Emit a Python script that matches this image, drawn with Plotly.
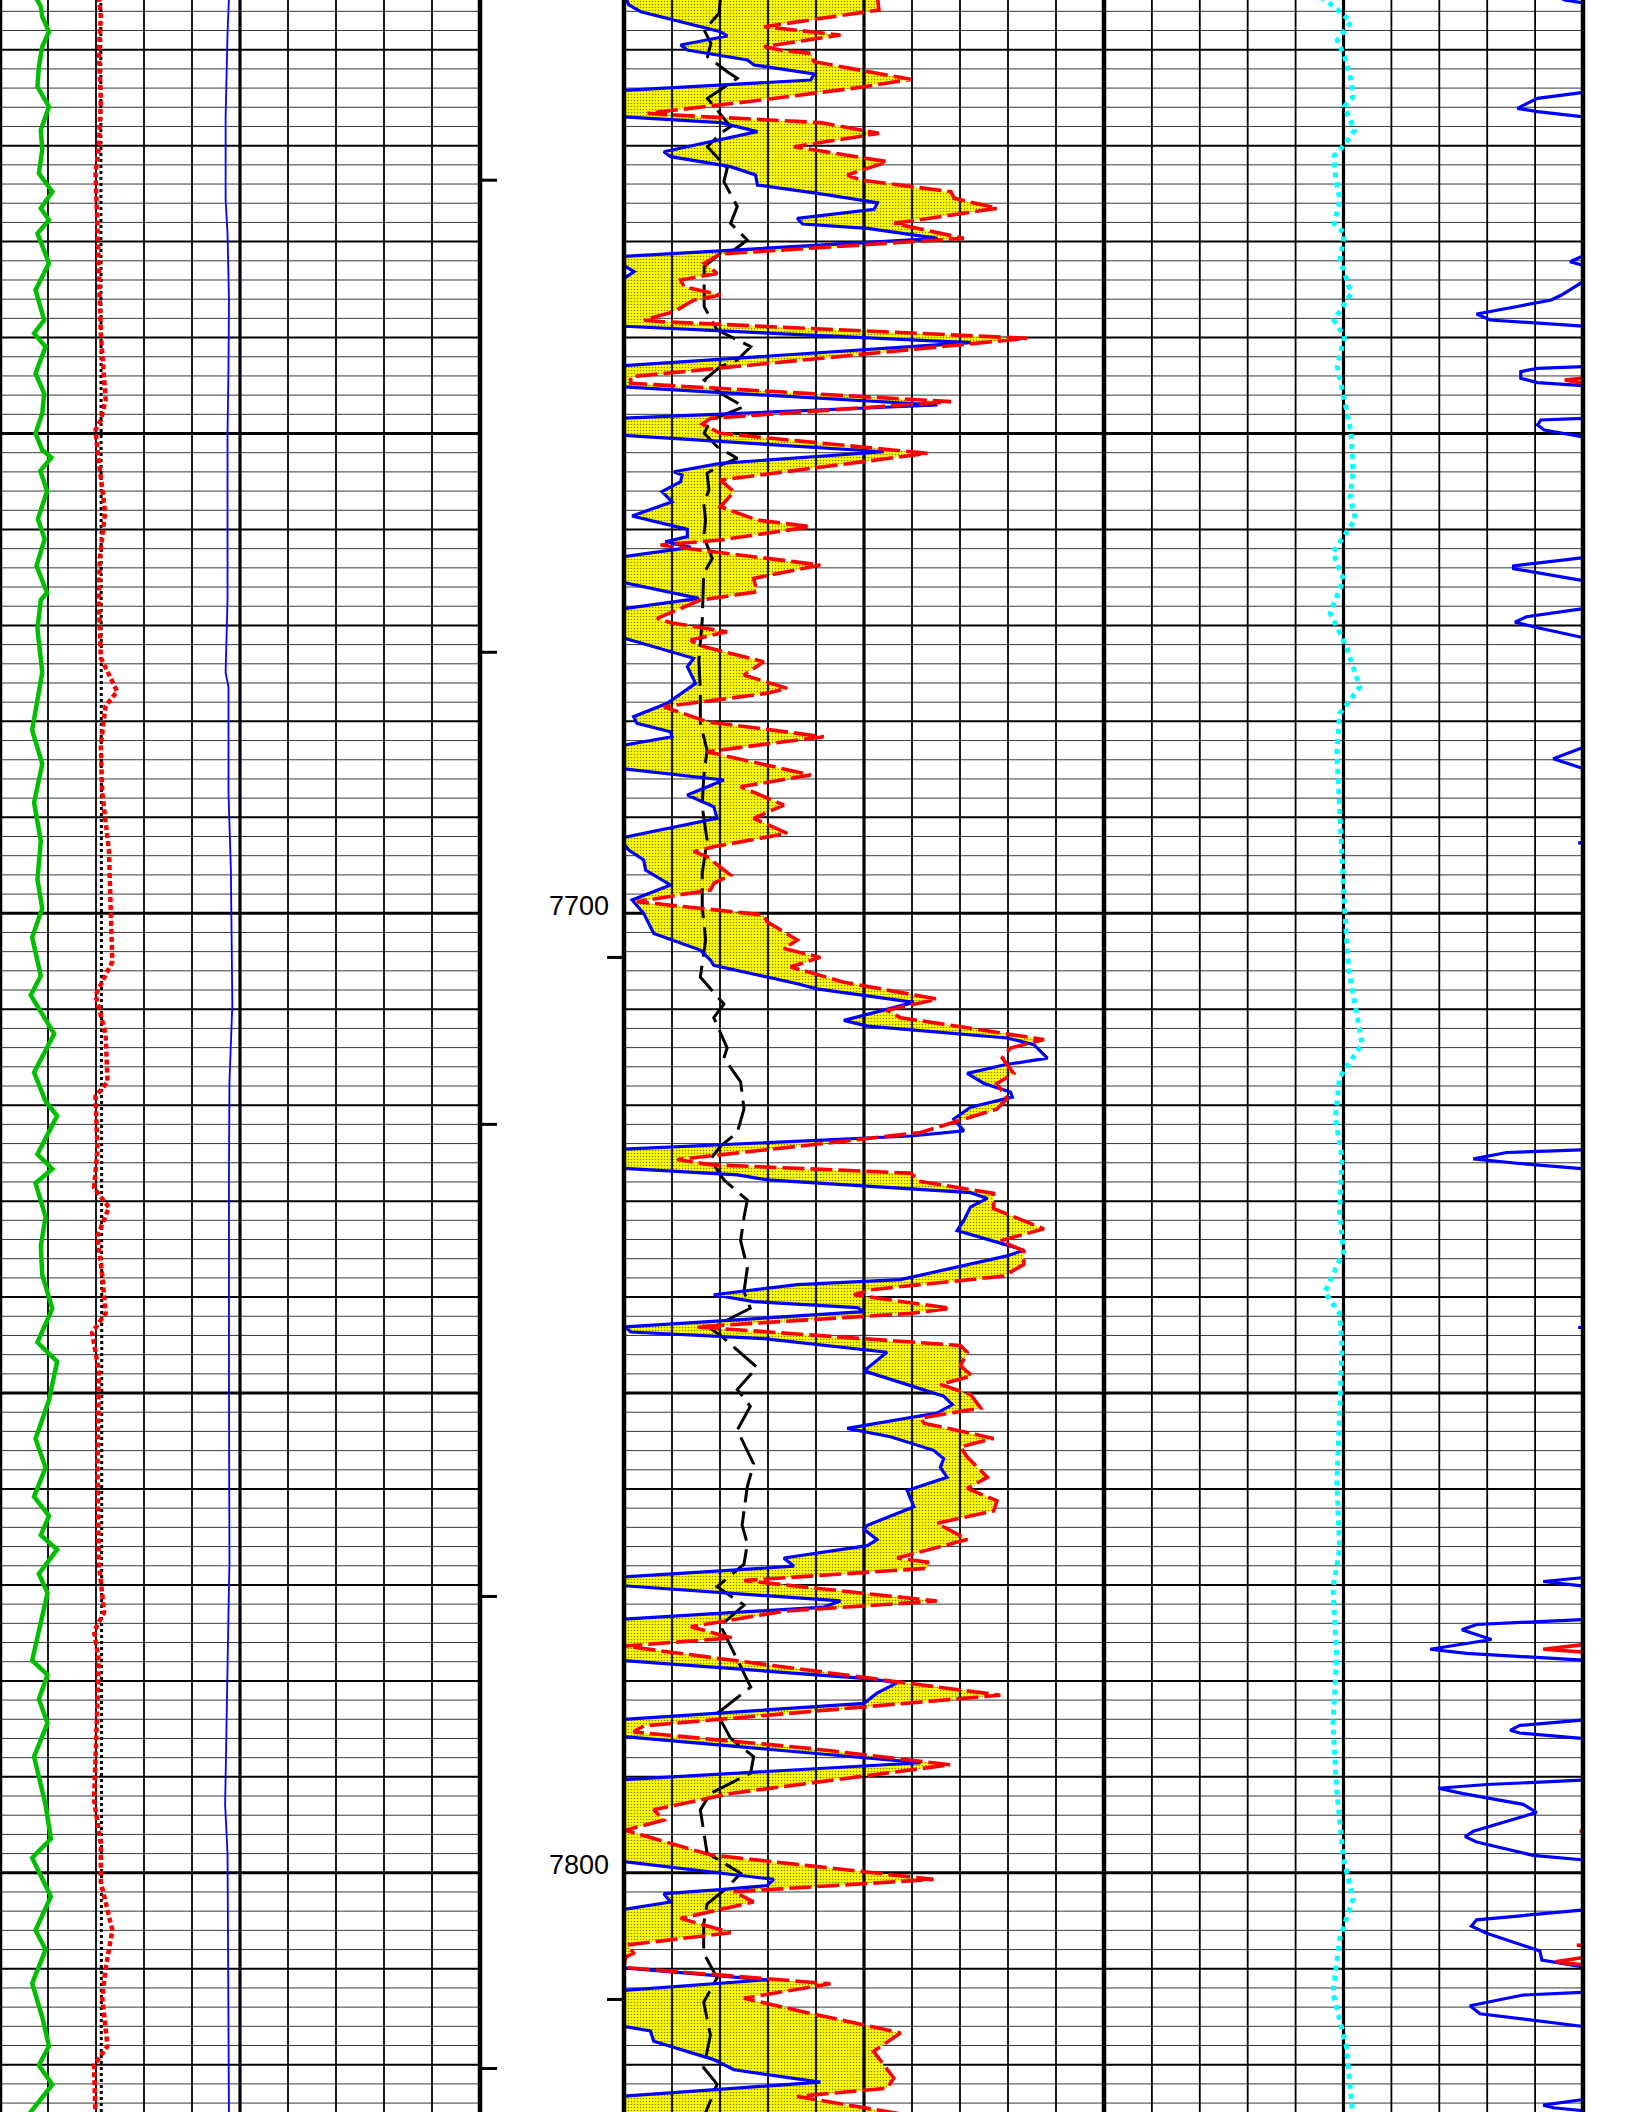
import numpy as np
import plotly.graph_objects as go

W, H = 1632, 2112
DEPTH_TOP, DEPTH_BOTTOM = 7604.82, 7824.93

# ---------------- data (depth ft, value in grid divisions 0-10) ----------------
# Track 1
T1_GREEN = [(7604.5, 0.74), (7605.5, 0.85), (7606.56, 0.88), (7608.12, 1.02), (7609.68, 0.88), (7611.77, 0.81),
            (7613.85, 0.78), (7615.94, 1.02), (7618.37, 0.85), (7620.45, 0.88), (7622.88, 0.81), (7624.8, 1.09),
            (7626.53, 0.85), (7627.75, 1.02), (7629.14, 0.78), (7632.26, 1.02), (7635.04, 0.74), (7638.17, 0.92),
            (7639.56, 0.71), (7640.95, 0.95), (7643.73, 0.74), (7645.81, 0.92), (7647.9, 0.88), (7649.98, 0.74),
            (7651.72, 0.88), (7652.5, 1.07), (7653.9, 0.84), (7656.0, 0.98), (7658.9, 0.79), (7661.0, 0.93),
            (7663.8, 0.76), (7666.6, 0.98), (7667.35, 0.85), (7670.36, 0.78), (7674.89, 0.88), (7680.91, 0.67),
            (7684.43, 0.88), (7688.45, 0.71), (7692.47, 0.85), (7696.49, 0.78), (7699.5, 0.88), (7702.51, 0.67),
            (7706.53, 0.85), (7708.54, 0.64), (7712.56, 1.13), (7716.58, 0.71), (7719.59, 0.95), (7721.1, 1.19),
            (7725.12, 0.78), (7726.63, 1.09), (7728.13, 0.74), (7731.65, 0.95), (7734.66, 0.85), (7737.68, 0.88),
            (7741.2, 1.09), (7744.71, 0.78), (7746.72, 1.19), (7750.74, 1.02), (7754.76, 0.74), (7757.77, 0.95),
            (7760.79, 0.71), (7762.8, 1.02), (7764.81, 0.85), (7766.31, 1.19), (7768.83, 0.81), (7770.83, 0.99),
            (7777.87, 0.67), (7779.37, 0.99), (7781.89, 0.81), (7784.4, 0.99), (7787.91, 0.71), (7792.94, 0.95),
            (7796.45, 1.06), (7798.46, 0.67), (7802.48, 1.06), (7805.99, 0.74), (7808.0, 0.95), (7811.52, 0.67),
            (7815.04, 0.88), (7818.05, 1.02), (7820.06, 0.81), (7822.07, 1.09), (7825.5, 0.55)]

T1_RED = [(7604.5, 2.06), (7606.56, 2.10), (7610.03, 2.06), (7615.24, 2.10), (7620.11, 2.06), (7622.88, 1.99),
          (7628.44, 2.03), (7632.61, 2.06), (7639.56, 2.10), (7646.51, 2.20), (7648.59, 2.10), (7649.63, 1.99),
          (7651.72, 2.03), (7658.2, 2.19), (7663.0, 2.08), (7667.35, 2.06), (7673.38, 2.10), (7676.89, 2.44),
          (7678.4, 2.20), (7682.42, 2.10), (7687.44, 2.13), (7693.47, 2.27), (7699.5, 2.31), (7705.03, 2.34),
          (7708.54, 1.99), (7712.56, 2.20), (7717.59, 2.24), (7719.09, 1.99), (7724.62, 2.03), (7728.64, 1.96),
          (7730.65, 2.27), (7733.66, 2.03), (7737.68, 2.13), (7741.7, 2.20), (7743.71, 1.92), (7747.73, 2.06),
          (7757.77, 2.03), (7767.82, 2.06), (7772.84, 2.17), (7774.85, 1.96), (7777.87, 2.06), (7787.91, 1.99),
          (7792.44, 1.96), (7796.95, 2.10), (7800.97, 2.10), (7805.99, 2.34), (7810.01, 2.20), (7813.03, 2.13),
          (7818.05, 2.24), (7820.06, 1.96), (7825.5, 1.99)]

T1_BLACK = [(7604.5, 2.10), (7650.0, 2.11), (7700.0, 2.12), (7750.0, 2.12), (7825.5, 2.11)]

T1_BLUE = [(7604.5, 4.77), (7608.3, 4.74), (7616.98, 4.70), (7625.66, 4.70), (7629.14, 4.74), (7636.09, 4.77),
           (7643.03, 4.76), (7649.98, 4.74), (7667.35, 4.74), (7674.89, 4.70), (7676.39, 4.76), (7687.44, 4.76),
           (7695.48, 4.81), (7699.5, 4.82), (7709.55, 4.84), (7717.59, 4.78), (7727.63, 4.77), (7747.73, 4.77),
           (7767.82, 4.78), (7772.84, 4.76), (7787.91, 4.70), (7792.94, 4.69), (7797.96, 4.74), (7818.05, 4.77),
           (7825.5, 4.77)]

# Track 2
T2_BLUE = [(7604.5, 0.03), (7605.34, 0.10), (7606.04, 0.35), (7608.12, 2.01), (7608.57, 2.15), (7609.51, 1.18),
           (7610.03, 1.32), (7611.07, 2.57), (7611.59, 2.71), (7612.53, 3.96), (7613.16, 3.89), (7614.27, -0.1),
           (7616.98, -0.1), (7617.60, 2.01), (7618.54, 2.78), (7620.63, 0.83), (7621.15, 0.97), (7622.19, 2.22),
           (7623.06, 2.74), (7624.10, 2.78), (7624.97, 4.03), (7625.94, 5.28), (7626.64, 5.21), (7627.57, 3.61),
           (7628.17, 3.72), (7628.62, 5.07), (7629.66, 6.53), (7631.57, -0.1), (7632.61, 0.03), (7633.13, 0.21),
           (7634.18, -0.1), (7638.80, -0.1), (7640.53, 7.22), (7642.96, -0.1), (7645.12, -0.1), (7647.03, 6.53),
           (7648.42, -0.1), (7650.16, -0.1), (7651.90, 5.41), (7653.11, 2.01), (7653.98, 1.04), (7654.33, 1.21),
           (7655.02, 1.18), (7656.06, 0.79), (7657.11, 1.00), (7658.60, 0.17), (7659.99, 1.32), (7660.75, 1.32),
           (7661.28, 0.86), (7661.87, 1.39), (7662.91, -0.1), (7665.44, -0.1), (7667.18, 1.56), (7668.33, -0.1),
           (7671.18, -0.1), (7673.43, 1.45), (7674.30, 1.32), (7676.04, 1.49), (7678.12, 0.90), (7679.51, 0.20),
           (7680.21, 0.27), (7681.08, 0.97), (7681.60, 1.00), (7682.57, -0.1), (7684.90, -0.1), (7686.11, 2.08),
           (7687.68, 1.32), (7688.89, 1.87), (7690.11, 1.94), (7692.19, -0.1), (7693.41, 0.10), (7694.45, 0.41),
           (7695.50, 0.45), (7697.06, 0.97), (7698.62, 0.17), (7700.01, 0.41), (7702.10, 0.62), (7703.83, 1.59),
           (7704.87, 1.80), (7705.42, 1.87), (7707.35, 3.61), (7707.88, 4.02), (7709.29, 6.04), (7711.16, 4.58),
           (7711.76, 5.07), (7713.00, 7.98), (7713.69, 8.54), (7715.10, 8.82), (7715.81, 7.91), (7716.69, 7.15),
           (7717.74, 7.50), (7718.63, 8.05), (7719.15, 8.09), (7720.21, 7.22), (7721.44, 6.87), (7722.68, 7.08),
           (7723.21, 5.97), (7724.61, -0.1), (7726.55, -0.1), (7727.26, 2.36), (7727.78, 2.98), (7729.12, 7.22),
           (7729.72, 7.57), (7730.60, 7.22), (7732.01, 7.08), (7733.07, 6.94), (7734.48, 7.91), (7735.11, 8.33),
           (7735.71, 7.98), (7738.18, 5.76), (7738.70, 3.61), (7739.76, 1.87), (7740.47, 2.70), (7741.10, 4.86),
           (7741.52, 5.00), (7743.11, 0.03), (7743.64, 0.14), (7744.34, 2.91), (7745.75, 5.48), (7747.69, 5.00),
           (7750.33, 6.66), (7751.21, 6.84), (7752.09, 6.52), (7753.68, 4.65), (7754.56, 5.55), (7755.97, 6.45),
           (7756.85, 6.66), (7757.73, 6.59), (7758.78, 6.73), (7760.15, 5.90), (7761.86, 6.04), (7763.78, 5.07),
           (7764.21, 5.00), (7765.27, 5.27), (7765.91, 5.07), (7767.19, 3.33), (7768.05, 3.54), (7769.20, -0.1),
           (7770.05, -0.1), (7771.67, 4.51), (7772.31, 4.16), (7773.60, -0.1), (7777.86, -0.1), (7779.78, 5.14),
           (7780.21, 5.69), (7781.28, 5.27), (7782.34, 5.00), (7784.05, -0.1), (7785.76, -0.1), (7788.53, 6.18),
           (7790.32, -0.1), (7798.77, -0.1), (7800.69, 3.12), (7801.33, 2.98), (7801.76, 2.01), (7802.18, 0.83),
           (7803.04, 0.97), (7803.89, -0.1), (7809.87, -0.1), (7811.15, 2.98), (7812.30, -0.1), (7815.93, -0.1),
           (7816.48, 0.55), (7817.55, 0.62), (7819.47, 1.87), (7820.53, 2.29), (7821.82, 4.09), (7823.31, -0.1),
           (7825.5, -0.1)]

T2_RED = [(7604.5, 5.28), (7605.86, 5.31), (7607.60, 2.92), (7608.47, 4.51), (7609.68, 2.92), (7610.10, 3.33),
          (7610.38, 3.89), (7611.25, 3.96), (7613.09, 5.97), (7613.92, 4.93), (7615.42, 2.57), (7616.63, 0.49),
          (7616.81, 1.04), (7617.60, 4.10), (7618.72, 5.31), (7620.11, 3.54), (7621.67, 5.49), (7623.06, 4.65),
          (7623.58, 4.93), (7624.80, 6.81), (7625.49, 6.88), (7626.53, 7.78), (7628.10, 5.63), (7628.62, 6.11),
          (7629.66, 7.08), (7631.29, 2.01), (7632.26, 1.67), (7633.31, 1.94), (7634.00, 1.18), (7634.70, 1.25),
          (7635.57, 2.01), (7636.09, 1.46), (7637.30, 1.04), (7638.17, 0.42), (7638.34, 0.76), (7640.08, 8.40),
          (7644.08, 0.14), (7644.77, 0.14), (7646.68, 6.81), (7648.42, 1.81), (7649.01, 1.63), (7649.98, 2.01),
          (7652.07, 6.32), (7654.85, 2.01), (7656.06, 2.29), (7657.63, 2.01), (7659.02, 2.77), (7659.71, 3.89),
          (7661.10, 2.01), (7661.62, 0.76), (7663.71, 4.09), (7665.10, 2.70), (7666.49, 2.77), (7667.36, 1.59),
          (7669.27, 0.69), (7669.72, 0.97), (7670.66, 2.15), (7671.52, 1.39), (7672.04, 1.53), (7673.78, 2.91),
          (7675.17, 2.50), (7676.56, 3.40), (7677.08, 2.98), (7678.47, 0.83), (7680.04, 1.73), (7681.60, 4.16),
          (7683.16, 1.73), (7685.59, 3.89), (7686.81, 2.43), (7688.72, 3.33), (7690.11, 2.70), (7691.67, 3.40),
          (7693.06, 1.87), (7693.58, 1.45), (7694.10, 1.73), (7696.02, 2.22), (7696.89, 1.87), (7697.58, 1.80),
          (7698.79, 0.27), (7700.18, 2.91), (7700.88, 2.98), (7702.79, 3.61), (7703.66, 3.33), (7704.60, 4.09),
          (7705.59, 3.47), (7707.18, 4.58), (7708.41, 5.97), (7708.94, 6.52), (7710.10, 5.48), (7710.88, 5.76),
          (7713.16, 8.75), (7714.05, 8.05), (7715.10, 7.88), (7716.69, 8.12), (7717.74, 7.77), (7719.33, 7.98),
          (7720.39, 7.77), (7722.85, 6.18), (7723.56, 4.93), (7725.67, 1.11), (7726.20, 1.80), (7727.08, 5.97),
          (7727.96, 6.18), (7729.19, 7.70), (7730.78, 7.70), (7732.89, 8.75), (7734.13, 7.84), (7735.18, 8.33),
          (7736.59, 8.33), (7737.82, 7.91), (7739.23, 5.14), (7739.76, 4.79), (7741.17, 6.80), (7741.70, 5.97),
          (7743.11, 1.52), (7745.05, 7.01), (7745.75, 7.15), (7747.16, 7.01), (7748.22, 7.25), (7749.10, 6.59),
          (7750.15, 7.22), (7751.56, 7.43), (7752.62, 6.18), (7753.15, 6.25), (7754.73, 7.70), (7755.61, 7.01),
          (7756.67, 7.15), (7758.78, 7.57), (7759.94, 7.15), (7761.22, 7.77), (7762.29, 7.70), (7763.57, 6.52),
          (7765.27, 7.15), (7767.19, 5.69), (7767.62, 6.32), (7768.26, 6.32), (7769.54, 2.50), (7771.68, 6.52),
          (7772.74, 3.33), (7774.36, 1.39), (7775.52, 2.25), (7776.37, 0.0), (7781.49, 7.84), (7784.69, 0.41),
          (7785.33, 0.20), (7787.04, 3.89), (7788.74, 6.80), (7791.73, 2.22), (7793.44, 0.62), (7794.50, 0.83),
          (7795.57, 0.03), (7798.13, 1.80), (7800.69, 6.45), (7801.97, 2.29), (7803.04, 2.70), (7804.75, 1.18),
          (7806.24, 2.22), (7807.52, 0.07), (7808.37, 0.20), (7808.80, 0.03), (7809.87, 0.0), (7811.57, 4.30),
          (7813.07, 2.50), (7814.35, 3.61), (7816.69, 5.76), (7818.61, 5.20), (7821.39, 5.62), (7822.45, 5.48),
          (7823.31, 3.61), (7825.5, 6.2)]

T2_BLACK = [(7604.5, 2.01), (7606.21, 1.98), (7607.95, 1.67), (7609.34, 1.81), (7610.73, 1.74), (7612.29, 2.15),
            (7612.98, 2.36), (7615.07, 1.74), (7618.02, 2.22), (7618.72, 2.01), (7620.11, 1.74), (7622.36, 2.15),
            (7623.75, 2.08), (7626.36, 2.36), (7628.10, 2.22), (7629.83, 2.57), (7630.88, 2.29), (7631.22, 2.01),
            (7632.61, 1.67), (7634.35, 1.67), (7636.78, 1.67), (7639.21, 1.94), (7640.95, 2.64), (7642.34, 2.36),
            (7643.03, 2.01), (7644.42, 1.67), (7645.81, 2.01), (7647.20, 2.50), (7648.59, 1.81), (7649.98, 1.67),
            (7651.37, 1.94), (7652.59, 2.36), (7653.29, 2.01), (7654.15, 1.73), (7655.89, 1.77), (7657.28, 1.66),
            (7659.02, 1.70), (7660.75, 1.66), (7663.01, 1.84), (7664.58, 1.66), (7668.05, 1.63), (7669.44, 1.63),
            (7673.61, 1.56), (7676.74, 1.59), (7680.21, 1.59), (7682.99, 1.73), (7685.77, 1.66), (7688.89, 1.63),
            (7692.37, 1.73), (7695.84, 1.63), (7699.32, 1.63), (7702.79, 1.70), (7706.65, 1.59), (7709.47, 2.08),
            (7710.88, 1.87), (7714.05, 2.15), (7715.10, 2.08), (7717.57, 2.43), (7720.39, 2.50), (7722.85, 2.36),
            (7724.26, 2.01), (7725.67, 1.80), (7727.78, 2.08), (7729.90, 2.57), (7731.66, 2.50), (7734.13, 2.43),
            (7736.94, 2.57), (7739.41, 2.50), (7741.17, 2.63), (7743.28, 1.80), (7743.99, 2.01), (7747.33, 2.77),
            (7749.63, 2.36), (7751.39, 2.63), (7753.85, 2.36), (7757.38, 2.70), (7759.73, 2.57), (7763.78, 2.46),
            (7765.70, 2.57), (7767.83, 2.50), (7770.18, 1.94), (7772.10, 2.50), (7774.24, 2.01), (7780.64, 2.64),
            (7783.41, 1.94), (7785.97, 2.22), (7787.89, 2.70), (7789.60, 2.64), (7791.73, 1.80), (7793.44, 1.59),
            (7797.92, 1.73), (7800.05, 2.43), (7801.55, 2.15), (7803.25, 1.73), (7805.39, 1.66), (7808.37, 1.66),
            (7810.93, 1.94), (7813.49, 1.66), (7816.91, 1.80), (7820.32, 1.66), (7822.03, 1.94), (7825.5, 1.66)]

# Track 3
T3_CYAN = [(7604.5, 4.52), (7605.5, 4.80), (7607.1, 5.16), (7609.0, 4.87), (7610.7, 5.02), (7613.2, 5.16),
           (7614.9, 5.20), (7615.9, 5.02), (7618.4, 5.23), (7619.9, 5.02), (7621.1, 4.80), (7623.6, 4.84),
           (7625.7, 4.93), (7628.1, 4.80), (7629.1, 5.02), (7631.9, 4.93), (7635.4, 5.16), (7638.2, 4.80),
           (7639.9, 5.02), (7643.0, 4.87), (7646.5, 5.02), (7650.0, 5.16), (7653.9, 5.20), (7656.7, 5.14),
           (7658.9, 5.25), (7662.4, 4.78), (7665.2, 5.0), (7668.7, 4.72), (7672.2, 5.06), (7676.4, 5.34),
           (7679.2, 4.92), (7683.4, 4.86), (7689.0, 4.92), (7694.6, 4.97), (7700.2, 5.03), (7705.9, 5.11),
           (7713.6, 5.39), (7717.1, 4.92), (7721.3, 4.83), (7725.5, 4.97), (7731.1, 4.92), (7735.3, 5.0),
           (7739.5, 4.61), (7741.7, 4.92), (7745.2, 4.97), (7752.2, 4.92), (7759.2, 4.86), (7766.2, 4.92),
           (7770.4, 4.78), (7777.4, 4.86), (7784.5, 4.78), (7791.5, 4.86), (7798.5, 5.0), (7802.7, 5.20),
           (7806.9, 4.92), (7812.5, 4.78), (7818.1, 5.06), (7825.5, 5.20)]

T3_BLUE = [(7604.3, 9.40), (7604.82, 9.62), (7605.6, 10.6),
           (7614.3, 10.6), (7614.48, 9.97), (7615.07, 9.05), (7616.11, 8.63), (7616.46, 9.05), (7616.98, 9.97), (7617.2, 10.6),
           (7631.4, 10.6), (7631.57, 9.97), (7632.09, 9.73), (7632.44, 9.97), (7632.6, 10.6),
           (7634.1, 10.6), (7634.28, 9.97), (7635.57, 9.55), (7636.09, 9.34), (7637.30, 8.06), (7637.55, 7.78),
           (7638.17, 8.06), (7638.52, 9.05), (7638.87, 9.97), (7639.0, 10.6),
           (7642.9, 10.6), (7643.03, 9.97), (7643.21, 9.05), (7643.55, 8.70), (7644.25, 8.70), (7644.70, 9.05),
           (7645.05, 9.97), (7645.2, 10.6),
           (7648.3, 10.6), (7648.42, 9.97), (7648.59, 9.12), (7649.11, 9.05), (7649.63, 9.19), (7650.33, 9.97), (7650.5, 10.6),
           (7662.8, 10.6), (7662.96, 9.97), (7663.80, 8.55), (7664.08, 8.55), (7665.31, 9.97), (7665.5, 10.6),
           (7668.1, 10.6), (7668.27, 9.97), (7669.10, 8.82), (7669.66, 8.58), (7670.22, 9.03), (7671.23, 9.97), (7671.4, 10.6),
           (7682.6, 10.6), (7682.78, 9.97), (7683.90, 9.38), (7684.85, 9.97), (7685.0, 10.6),
           (7692.5, 10.6), (7692.66, 9.90), (7692.8, 10.6),
           (7724.5, 10.6), (7724.65, 9.97), (7724.93, 8.41), (7725.60, 7.71), (7726.05, 8.62), (7726.61, 9.97), (7726.8, 10.6),
           (7743.0, 10.6), (7743.17, 9.90), (7743.3, 10.6),
           (7769.1, 10.6), (7769.25, 9.97), (7769.64, 9.17), (7770.09, 9.97), (7770.2, 10.6),
           (7773.5, 10.6), (7773.62, 9.97), (7774.12, 7.78), (7774.68, 7.47), (7775.69, 8.09), (7776.70, 6.81),
           (7777.14, 7.57), (7777.87, 9.97), (7778.0, 10.6),
           (7783.9, 10.6), (7784.08, 9.97), (7784.64, 8.68), (7785.15, 8.48), (7785.43, 8.68), (7785.99, 9.97), (7786.1, 10.6),
           (7790.2, 10.6), (7790.35, 9.97), (7790.80, 7.99), (7791.19, 6.98), (7791.75, 7.50), (7792.87, 8.75),
           (7793.71, 9.03), (7795.67, 7.71), (7796.23, 7.54), (7796.79, 7.78), (7798.19, 8.96), (7798.64, 9.97), (7798.8, 10.6),
           (7803.8, 10.6), (7803.90, 9.97), (7804.90, 7.78), (7805.57, 7.67), (7806.30, 7.99), (7808.15, 9.10),
           (7809.10, 9.14), (7809.77, 9.97), (7809.9, 10.6),
           (7812.3, 10.6), (7812.46, 9.97), (7812.74, 8.75), (7813.86, 7.64), (7814.70, 7.85), (7815.99, 9.97), (7816.1, 10.6),
           (7823.5, 10.6), (7823.65, 9.97), (7824.21, 9.17), (7824.49, 9.38), (7824.77, 9.97), (7825.5, 10.6)]

T3_RED = [(7604.3, 10.6), (7644.1, 10.6), (7644.25, 9.97), (7644.42, 9.62), (7644.77, 9.97), (7644.9, 10.6),
          (7776.1, 10.6), (7776.25, 9.97), (7776.70, 9.17), (7777.03, 9.97), (7777.2, 10.6),
          (7795.5, 10.6), (7795.67, 9.93), (7795.8, 10.6),
          (7807.4, 10.6), (7807.55, 9.87), (7807.7, 10.6), (7808.75, 10.6), (7808.85, 9.97), (7809.27, 9.42),
          (7809.6, 9.97), (7809.8, 10.6), (7825.5, 10.6)]

# depth annotations / ticks
DEPTH_LABELS = [7700, 7800]
T1_RIGHT_TICKS = [7623.6, 7672.8, 7722.0, 7771.2, 7820.4]
T2_LEFT_TICKS = [7704.6, 7813.2]
GRID_THIN = [d for d in range(7606, 7826, 2) if d % 10 != 0]
GRID_MAJOR = [d for d in range(7610, 7826, 10) if d % 50 != 0]
GRID_HEAVY = [7650, 7700, 7750, 7800]

# ---------------- layout geometry (pixels) ----------------
TRACKS = {"x": (0, 480), "x2": (624, 1104), "x3": (1104, 1583)}
BORDERS_PX = [0, 480, 624, 1104, 1583]

fig = go.Figure()


def split(pairs):
    d = [p[0] for p in pairs]
    v = [p[1] for p in pairs]
    return d, v


def hlines(xa, depths, width, color):
    xs, ys = [], []
    for d in depths:
        xs += [0, 10, None]
        ys += [d, d, None]
    fig.add_trace(go.Scatter(x=xs, y=ys, xaxis=xa, yaxis="y", mode="lines",
                             line=dict(color=color, width=width), hoverinfo="skip", showlegend=False))


def vlines(xa):
    xs, ys = [], []
    for k in [1, 2, 3, 4, 6, 7, 8, 9]:
        xs += [k, k, None]
        ys += [DEPTH_TOP - 1, DEPTH_BOTTOM + 1, None]
    fig.add_trace(go.Scatter(x=xs, y=ys, xaxis=xa, yaxis="y", mode="lines",
                             line=dict(color="black", width=1.8), hoverinfo="skip", showlegend=False))
    fig.add_trace(go.Scatter(x=[5, 5], y=[DEPTH_TOP - 1, DEPTH_BOTTOM + 1], xaxis=xa, yaxis="y", mode="lines",
                             line=dict(color="black", width=3.2), hoverinfo="skip", showlegend=False))


def curve(xa, pairs, color, width, dash="solid"):
    d, v = split(pairs)
    fig.add_trace(go.Scatter(x=v, y=d, xaxis=xa, yaxis="y", mode="lines",
                             line=dict(color=color, width=width, dash=dash),
                             hoverinfo="skip", showlegend=False))


for xa in TRACKS:
    hlines(xa, GRID_THIN, 1.0, "#3a3a3a")
    hlines(xa, GRID_MAJOR, 2.0, "black")
    hlines(xa, GRID_HEAVY, 3.0, "black")
    if xa == "x2":
        # yellow stippled fill where the red curve lies right of the blue curve
        bd, bv = split(T2_BLUE)
        rd, rv = split(T2_RED)
        grid = np.arange(DEPTH_TOP - 0.3, DEPTH_BOTTOM + 0.5, 0.02)
        bi = np.interp(grid, bd, bv)
        ri = np.interp(grid, rd, rv)
        fig.add_trace(go.Scatter(x=bi, y=grid, xaxis=xa, yaxis="y", mode="lines",
                                 line=dict(width=0, color="rgba(0,0,0,0)"), hoverinfo="skip", showlegend=False))
        fig.add_trace(go.Scatter(x=np.maximum(ri, bi), y=grid, xaxis=xa, yaxis="y", mode="lines",
                                 line=dict(width=0, color="rgba(0,0,0,0)"), fill="tonextx", fillcolor="yellow",
                                 fillpattern=dict(shape=".", fgcolor="black", bgcolor="yellow", size=3, solidity=0.22),
                                 hoverinfo="skip", showlegend=False))
    vlines(xa)

# Track 1 curves
curve("x", T1_BLACK, "black", 3.0, "3px,3px")
curve("x", T1_RED, "#ff0000", 4.5, "5px,3px")
curve("x", T1_GREEN, "#00bf00", 4.5)
curve("x", T1_BLUE, "#0000ff", 1.8)

# Track 2 curves
curve("x2", T2_BLACK, "black", 3.0, "30px,9px")
curve("x2", T2_BLUE, "#0000ff", 3.2)
curve("x2", T2_RED, "#ff0000", 3.6, "22px,6px")

# Track 3 curves
curve("x3", T3_CYAN, "#00ffff", 5.0, "5px,5px")
curve("x3", T3_BLUE, "#0000ff", 3.2)
curve("x3", T3_RED, "#ff0000", 3.6)

shapes = []
for px in BORDERS_PX:
    shapes.append(dict(type="line", xref="paper", yref="paper", x0=px / W, x1=px / W, y0=0, y1=1,
                       line=dict(color="black", width=4.5), layer="above"))
for d in T1_RIGHT_TICKS:
    shapes.append(dict(type="line", xref="paper", yref="y", x0=480 / W, x1=497 / W, y0=d, y1=d,
                       line=dict(color="black", width=3), layer="above"))
for d in T2_LEFT_TICKS:
    shapes.append(dict(type="line", xref="paper", yref="y", x0=607 / W, x1=624 / W, y0=d, y1=d,
                       line=dict(color="black", width=3), layer="above"))

annotations = []
for d in DEPTH_LABELS:
    annotations.append(dict(text=str(d), xref="paper", yref="y", x=611 / W, y=d - 0.8,
                            xanchor="right", yanchor="middle", showarrow=False,
                            font=dict(family="Liberation Sans, Arial, sans-serif", size=27, color="black")))

axis_common = dict(range=[0, 10], visible=False, fixedrange=True)
fig.update_layout(
    width=W, height=H, margin=dict(l=0, r=0, t=0, b=0, pad=0),
    paper_bgcolor="white", plot_bgcolor="white", showlegend=False,
    xaxis=dict(domain=[TRACKS["x"][0] / W, TRACKS["x"][1] / W], anchor="y", **axis_common),
    xaxis2=dict(domain=[TRACKS["x2"][0] / W, TRACKS["x2"][1] / W], anchor="y", **axis_common),
    xaxis3=dict(domain=[TRACKS["x3"][0] / W, TRACKS["x3"][1] / W], anchor="y", **axis_common),
    yaxis=dict(domain=[0, 1], range=[DEPTH_BOTTOM, DEPTH_TOP], visible=False, fixedrange=True),
    shapes=shapes, annotations=annotations,
)

fig.write_html("out.html", config={"displayModeBar": False},
               post_script="document.body.style.margin='0';")
